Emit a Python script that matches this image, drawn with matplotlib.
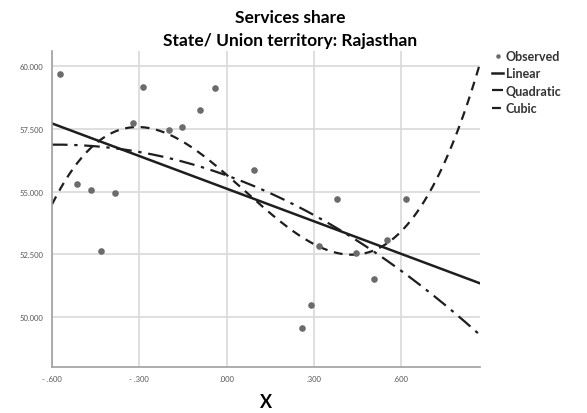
import numpy as np
import matplotlib
matplotlib.use("Agg")
import matplotlib.pyplot as plt
from matplotlib.ticker import FuncFormatter

# observed values (x, services share)
obs_x = [-0.573, -0.514, -0.466, -0.432, -0.384, -0.322, -0.288, -0.199, -0.154, -0.092,
         -0.040, 0.094, 0.259, 0.290, 0.317, 0.380, 0.445, 0.507, 0.551, 0.617]
obs_y = [59.69, 55.31, 55.07, 52.63, 54.95, 57.74, 59.18, 57.46, 57.58, 58.25,
         59.13, 55.87, 49.56, 50.49, 52.84, 54.72, 52.56, 51.52, 53.08, 54.72]

x_ticks = [-0.6, -0.3, 0.0, 0.3, 0.6]
y_ticks = [50.0, 52.5, 55.0, 57.5, 60.0]
fit_names = ["Linear", "Quadratic", "Cubic"]
fit_orders = [1, 2, 3]

plt.rcParams['font.family'] = ['Lato', 'DejaVu Sans']

fig = plt.figure(figsize=(5.87, 4.14), dpi=100)
ax = fig.add_axes([0.0886, 0.111, 0.729, 0.763])

xs = np.linspace(-0.6, 0.871, 300)
styles = {
    "Linear": dict(linestyle="-", linewidth=1.8),
    "Quadratic": dict(linestyle=(0, (7, 3, 1.5, 3)), linewidth=1.6),
    "Cubic": dict(linestyle=(0, (4, 3)), linewidth=1.6),
}

ax.scatter(obs_x, obs_y, s=14, color="#6b6b6b", zorder=3, label="Observed")
for name, order in zip(fit_names, fit_orders):
    coef = np.polyfit(obs_x, obs_y, order)
    ax.plot(xs, np.polyval(coef, xs), color="#1e1e1e", label=name, **styles[name])

ax.set_xlim(-0.6, 0.871)
ax.set_ylim(48.0, 60.6)
ax.set_xticks(x_ticks)
ax.set_yticks(y_ticks)

def fmt_x(v, pos):
    s = f"{v:.3f}".replace("0.", ".", 1)
    return s.replace("-", "- ")

ax.xaxis.set_major_formatter(FuncFormatter(fmt_x))
ax.yaxis.set_major_formatter(FuncFormatter(lambda v, p: f"{v:.3f}"))
ax.tick_params(length=0, labelsize=5.5, labelcolor="#555555", pad=6)
ax.grid(True, color="#d9d9d9", linewidth=1.2)
ax.set_axisbelow(True)
for side in ("top", "right"):
    ax.spines[side].set_visible(False)
for side in ("left", "bottom"):
    ax.spines[side].set_color("#a0a0a0")
    ax.spines[side].set_linewidth(1.2)

ax.set_xlabel("X", fontsize=13, fontweight="bold", labelpad=8)
fig.text(0.494, 0.957, "Services share", ha="center", va="center",
         fontsize=12.5, fontweight="bold")
fig.text(0.494, 0.902, "State/ Union territory: Rajasthan", ha="center", va="center",
         fontsize=12.5, fontweight="bold")

leg = fig.legend(loc="upper left", bbox_to_anchor=(0.83, 0.89), frameon=False,
                 fontsize=9, handlelength=0.9, handletextpad=0.2, labelspacing=0.45,
                 borderaxespad=0, markerscale=0.6)
for t in leg.get_texts():
    t.set_color("#333333")
    t.set_fontweight("bold")

fig.savefig("out.png", dpi=100)
